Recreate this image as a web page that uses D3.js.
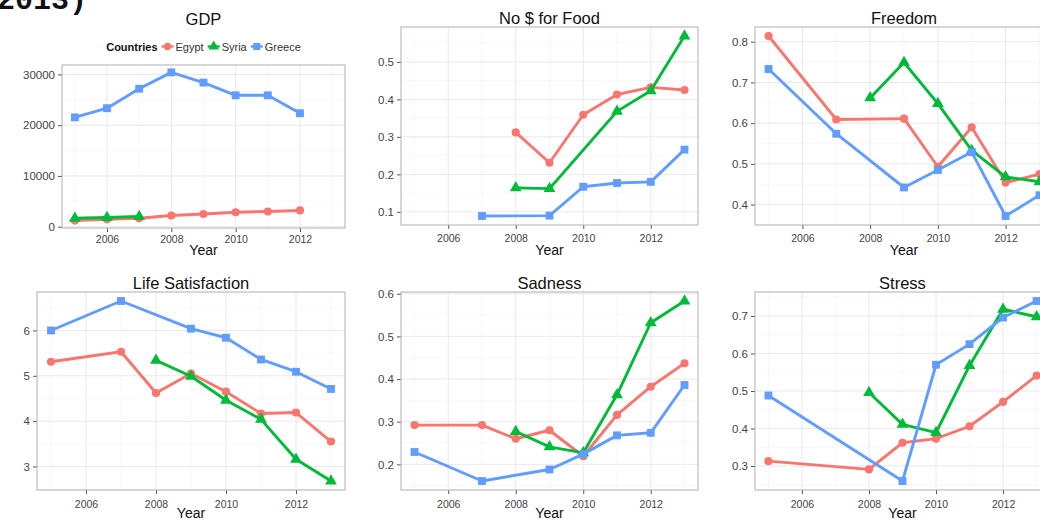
<!DOCTYPE html>
<html>
<head>
<meta charset="utf-8">
<script src="https://cdn.jsdelivr.net/npm/d3@7"></script>
<style>
  html, body { margin: 0; padding: 0; background: #fff; overflow: hidden; }
  svg { display: block; font-family: "Liberation Sans", Arial, Helvetica, sans-serif; }
</style>
</head>
<body>
<svg id="chart" width="1040" height="521"></svg>
<script>
// ---- data -------------------------------------------------------------
const years = [2005, 2006, 2007, 2008, 2009, 2010, 2011, 2012, 2013];
const countries = ["Egypt", "Syria", "Greece"];

// GDP per capita (US$)
const gdpEgypt  = [1200, 1450, 1650, 2200, 2500, 2850, 3000, 3200, null];
const gdpSyria  = [1650, 1800, 2000, null, null, null, null, null, null];
const gdpGreece = [21540, 23350, 27180, 30400, 28390, 25890, 25890, 22350, null];

// Share without enough money for food
const foodEgypt  = [null, null, null, 0.312, 0.231, 0.359, 0.413, 0.432, 0.425];
const foodSyria  = [null, null, null, 0.164, 0.162, null, 0.368, 0.423, 0.569];
const foodGreece = [null, null, 0.089, null, 0.090, 0.167, 0.177, 0.180, 0.266];

// Freedom
const freeEgypt  = [0.814, null, 0.609, null, 0.611, 0.493, 0.590, 0.454, 0.475];
const freeSyria  = [null, null, null, 0.662, 0.749, 0.648, 0.533, 0.468, 0.456];
const freeGreece = [0.733, null, 0.574, null, 0.442, 0.485, 0.529, 0.372, 0.423];

// Life satisfaction
const lifeEgypt  = [5.31, null, 5.53, 4.62, 5.05, 4.65, 4.17, 4.19, 3.55];
const lifeSyria  = [null, null, null, 5.34, 4.99, 4.46, 4.04, 3.16, 2.68];
const lifeGreece = [6.00, null, 6.65, null, 6.04, 5.84, 5.36, 5.09, 4.71];

// Sadness
const sadEgypt  = [0.292, null, 0.292, 0.260, 0.280, 0.219, 0.316, 0.382, 0.437];
const sadSyria  = [null, null, null, 0.277, 0.241, 0.227, 0.363, 0.532, 0.583];
const sadGreece = [0.229, null, 0.161, null, 0.188, 0.224, 0.268, 0.274, 0.386];

// Stress
const stressEgypt  = [0.313, null, null, 0.291, 0.362, 0.373, 0.406, 0.471, 0.541];
const stressSyria  = [null, null, null, 0.496, 0.411, 0.389, 0.568, 0.718, 0.698];
const stressGreece = [0.488, null, null, null, 0.260, 0.570, 0.625, 0.696, 0.740];

// tick labels
const xTickYears  = [2006, 2008, 2010, 2012];
const gdpTicks    = [0, 10000, 20000, 30000];
const foodTicks   = [0.1, 0.2, 0.3, 0.4, 0.5];
const freeTicks   = [0.4, 0.5, 0.6, 0.7, 0.8];
const lifeTicks   = [3, 4, 5, 6];
const sadTicks    = [0.2, 0.3, 0.4, 0.5, 0.6];
const stressTicks = [0.3, 0.4, 0.5, 0.6, 0.7];

// ---- styling ----------------------------------------------------------
const colors  = { Egypt: "#F8766D", Syria: "#00BA38", Greece: "#619CFF" };
const shapes  = { Egypt: d3.symbolCircle, Syria: d3.symbolTriangle, Greece: d3.symbolSquare };
const sizes   = { Egypt: 52, Syria: 60, Greece: 62 };

const panels = [
  { title: "GDP",               series: [gdpEgypt, gdpSyria, gdpGreece],          ticks: gdpTicks,    fmt: d3.format("d"),
    box: { l: 62,  r: 345,  t: 65,  b: 228 }, titleY: 25,  tickY: 243, labelY: 255 },
  { title: "No $ for Food",     series: [foodEgypt, foodSyria, foodGreece],       ticks: foodTicks,   fmt: d3.format(".1f"),
    box: { l: 401, r: 698,  t: 27,  b: 225 }, titleY: 24,  tickY: 242, labelY: 255 },
  { title: "Freedom",           series: [freeEgypt, freeSyria, freeGreece],       ticks: freeTicks,   fmt: d3.format(".1f"),
    box: { l: 755, r: 1053, t: 27,  b: 225 }, titleY: 24,  tickY: 242, labelY: 255 },
  { title: "Life Satisfaction", series: [lifeEgypt, lifeSyria, lifeGreece],       ticks: lifeTicks,   fmt: d3.format("d"),
    box: { l: 37,  r: 345,  t: 292, b: 490 }, titleY: 289, tickY: 508, labelY: 518 },
  { title: "Sadness",           series: [sadEgypt, sadSyria, sadGreece],          ticks: sadTicks,    fmt: d3.format(".1f"),
    box: { l: 401, r: 698,  t: 292, b: 490 }, titleY: 289, tickY: 508, labelY: 518 },
  { title: "Stress",            series: [stressEgypt, stressSyria, stressGreece], ticks: stressTicks, fmt: d3.format(".1f"),
    box: { l: 755, r: 1050, t: 292, b: 490 }, titleY: 289, tickY: 508, labelY: 518 }
];

const svg = d3.select("#chart");

// cropped heading fragment in the top-left corner
svg.append("text")
  .attr("x", -3).attr("y", 9)
  .attr("font-family", "'Liberation Mono', 'DejaVu Sans Mono', monospace")
  .attr("font-size", 30).attr("font-weight", "bold")
  .attr("fill", "#111")
  .text("2013)");

// expand a numeric extent by 5% on each side
function expand(lo, hi) {
  const d = (hi - lo) * 0.05;
  return [lo - d, hi + d];
}

panels.forEach(p => {
  const b = p.box;
  const g = svg.append("g");

  const x = d3.scaleLinear().domain(expand(years[0], years[years.length - 1])).range([b.l, b.r]);
  const all = p.series.flat().filter(v => v != null);
  const y = d3.scaleLinear().domain(expand(d3.min(all), d3.max(all))).range([b.b, b.t]);

  // panel background
  g.append("rect").attr("x", b.l).attr("y", b.t).attr("width", b.r - b.l).attr("height", b.b - b.t)
    .attr("fill", "#fff");

  // minor grid
  const step = p.ticks[1] - p.ticks[0];
  const [y0, y1] = y.domain();
  const minorY = [];
  for (let i = -1; i < p.ticks.length; i++) {
    const v = p.ticks[0] + step * (i + 0.5);
    if (v > y0 && v < y1) minorY.push(v);
  }
  const minorX = years.filter(v => !xTickYears.includes(v));
  g.append("g").selectAll("line").data(minorY).join("line")
    .attr("x1", b.l).attr("x2", b.r).attr("y1", d => y(d)).attr("y2", d => y(d))
    .attr("stroke", "#f4f4f4").attr("stroke-width", 0.6);
  g.append("g").selectAll("line").data(minorX).join("line")
    .attr("y1", b.t).attr("y2", b.b).attr("x1", d => x(d)).attr("x2", d => x(d))
    .attr("stroke", "#f4f4f4").attr("stroke-width", 0.6);

  // major grid
  g.append("g").selectAll("line").data(p.ticks).join("line")
    .attr("x1", b.l).attr("x2", b.r).attr("y1", d => y(d)).attr("y2", d => y(d))
    .attr("stroke", "#e6e6e6").attr("stroke-width", 0.9);
  g.append("g").selectAll("line").data(xTickYears).join("line")
    .attr("y1", b.t).attr("y2", b.b).attr("x1", d => x(d)).attr("x2", d => x(d))
    .attr("stroke", "#e6e6e6").attr("stroke-width", 0.9);

  // axes
  const yAxis = d3.axisLeft(y).tickValues(p.ticks).tickFormat(p.fmt).tickSize(4).tickPadding(3);
  const ya = g.append("g").attr("transform", `translate(${b.l},0)`).call(yAxis);
  const xAxis = d3.axisBottom(x).tickValues(xTickYears).tickFormat(d3.format("d")).tickSize(4).tickPadding(4);
  const xa = g.append("g").attr("transform", `translate(0,${b.b})`).call(xAxis);
  [ya, xa].forEach(a => {
    a.select(".domain").remove();
    a.selectAll(".tick line").attr("stroke", "#555").attr("stroke-width", 1);
    a.selectAll(".tick text").attr("fill", "#444").attr("font-size", 11.5)
      .attr("font-family", "'Liberation Sans', Arial, sans-serif");
  });
  xa.selectAll(".tick text").attr("dy", null).attr("y", p.tickY - b.b).attr("font-size", 10.5);

  // series
  countries.forEach((c, i) => {
    const pts = years.map((yr, j) => ({ yr, v: p.series[i][j] })).filter(d => d.v != null);
    g.append("path").datum(pts)
      .attr("fill", "none").attr("stroke", colors[c]).attr("stroke-width", 2.9)
      .attr("stroke-linejoin", "round")
      .attr("d", d3.line().x(d => x(d.yr)).y(d => y(d.v)));
    g.append("g").selectAll("path").data(pts).join("path")
      .attr("transform", d => `translate(${x(d.yr)},${y(d.v)})`)
      .attr("d", d3.symbol(shapes[c], sizes[c]))
      .attr("fill", colors[c]);
  });

  // panel border
  g.append("rect").attr("x", b.l).attr("y", b.t).attr("width", b.r - b.l).attr("height", b.b - b.t)
    .attr("fill", "none").attr("stroke", "#b0b0b0").attr("stroke-width", 1);

  // title and axis label
  const cx = (b.l + b.r) / 2;
  g.append("text").attr("x", cx).attr("y", p.titleY).attr("text-anchor", "middle")
    .attr("font-size", 16.5).attr("fill", "#111").text(p.title);
  g.append("text").attr("x", cx).attr("y", p.labelY).attr("text-anchor", "middle")
    .attr("font-size", 14).attr("fill", "#111").text("Year");
});

// legend above the GDP panel
(function legend() {
  const lg = svg.append("g");
  const yC = 46.5;
  let cur = 0;
  const title = lg.append("text").attr("x", cur).attr("y", yC + 4)
    .attr("font-size", 11).attr("font-weight", "bold").attr("fill", "#111").text("Countries");
  cur += title.node().getComputedTextLength() + 4;
  countries.forEach(c => {
    lg.append("line").attr("x1", cur).attr("x2", cur + 12).attr("y1", yC).attr("y2", yC)
      .attr("stroke", colors[c]).attr("stroke-width", 2.4);
    lg.append("path").attr("transform", `translate(${cur + 6},${yC})`)
      .attr("d", d3.symbol(shapes[c], sizes[c] * 0.8)).attr("fill", colors[c]);
    cur += 14;
    const t = lg.append("text").attr("x", cur).attr("y", yC + 4)
      .attr("font-size", 11).attr("fill", "#333").text(c);
    cur += t.node().getComputedTextLength() + 4;
  });
  const width = cur - 4;
  const center = (panels[0].box.l + panels[0].box.r) / 2;
  lg.attr("transform", `translate(${center - width / 2},0)`);
})();
</script>
</body>
</html>
